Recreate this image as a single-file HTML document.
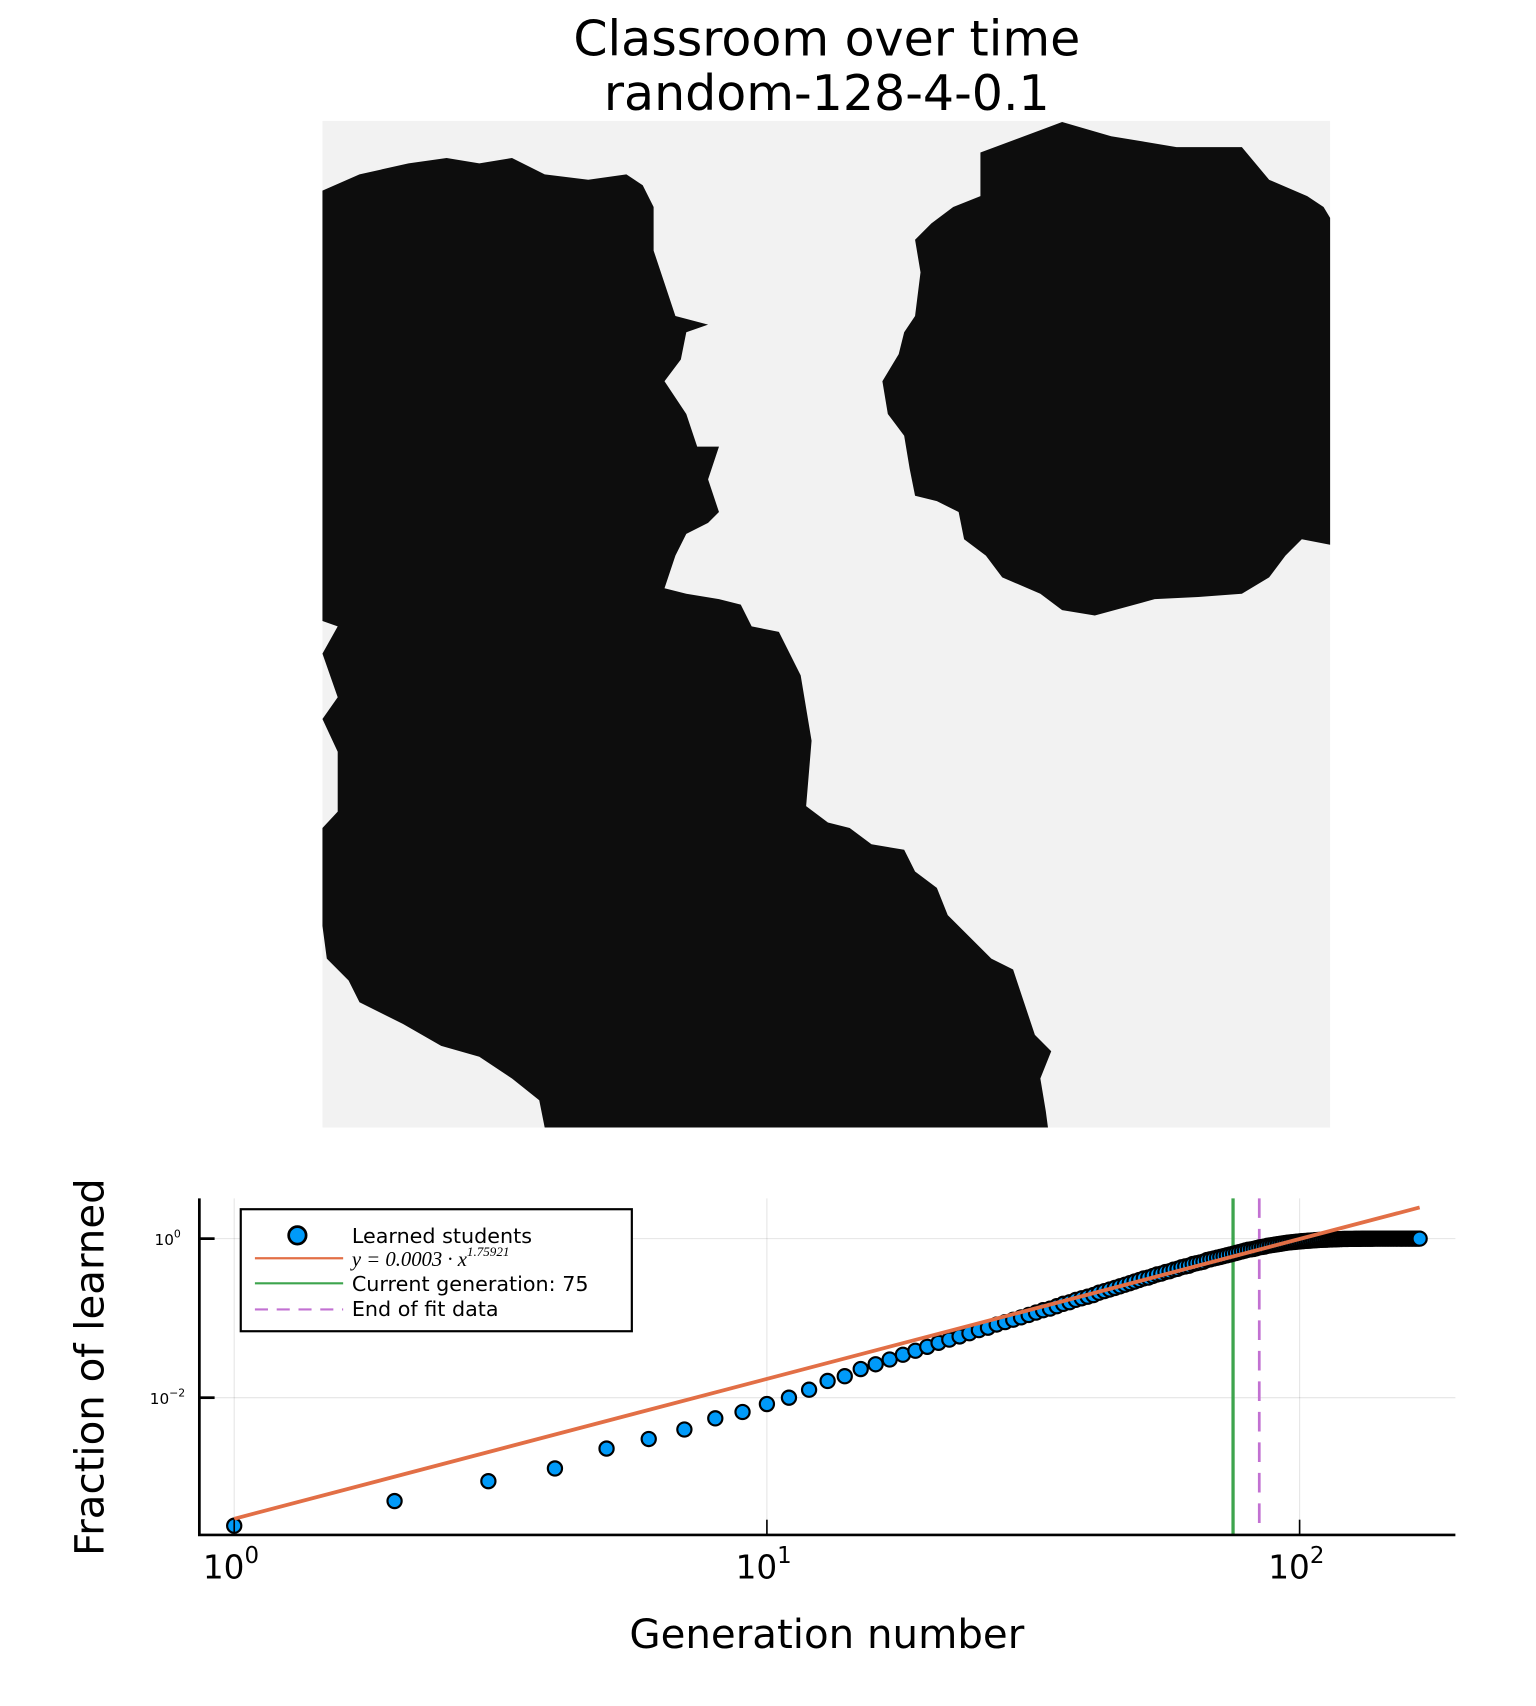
<!DOCTYPE html>
<html><head><meta charset="utf-8"><style>
html,body{margin:0;padding:0;background:#fff;}
svg{display:block;font-family:"DejaVu Sans","Liberation Sans",sans-serif;}
</style></head><body>
<svg id="fig" width="1536" height="1706" viewBox="0 0 1410 1566" xmlns="http://www.w3.org/2000/svg">
<rect x="0" y="0" width="1410" height="1566" fill="#fff"/>
<text x="759" y="51" font-size="45" text-anchor="middle">Classroom over time</text>
<text x="759" y="101" font-size="45" text-anchor="middle">random-128-4-0.1</text>
<g>
<rect x="296" y="111" width="925" height="924" fill="#f2f2f2"/>
<polygon fill="#0d0d0d" points="296,175 330,160 375,150 410,145 440,150 470,145 500,160 540,165 575,160 590,170 600,190 600,230 610,260 620,290 650,298 630,305 625,330 610,350 630,380 640,410 660,410 650,440 660,470 650,480 630,490 620,510 610,540 630,545 660,550 680,555 690,575 715,580 725,600 735,620 740,650 745,680 740,740 760,755 780,760 800,775 830,780 840,800 860,815 870,840 890,860 910,880 930,890 940,920 950,950 965,965 955,990 960,1020 962,1035 500,1035 495,1010 470,990 440,970 405,960 370,940 330,920 320,900 300,880 296,850 296,760 310,745 310,690 296,660 310,640 296,600 310,575 296,570"/>
<polygon fill="#0d0d0d" points="900,140 975,112 1020,125 1080,135 1140,135 1165,165 1200,180 1215,190 1221,200 1221,500 1195,495 1180,510 1165,530 1140,545 1100,548 1060,550 1005,565 975,560 955,545 920,530 905,510 885,495 880,470 860,460 840,455 835,430 830,400 815,380 810,350 825,325 830,305 840,290 845,250 840,220 855,205 875,190 900,180"/>
</g>
<g id="chart"></g>
</svg>
<script>
const genValuesLog10 = [-3.61,-3.30,-3.05,-2.89,-2.64,-2.52,-2.40,-2.26,-2.18,-2.08,
-2.00,-1.90,-1.79,-1.73,-1.64,-1.58,-1.52,-1.46,-1.41,-1.36,
-1.31,-1.27,-1.23,-1.19,-1.15,-1.12,-1.08,-1.05,-1.02,-0.99,
-0.96,-0.93,-0.90,-0.88,-0.85,-0.82,-0.80,-0.77,-0.75,-0.73,
-0.71,-0.68,-0.66,-0.64,-0.62,-0.60,-0.58,-0.56,-0.54,-0.52,
-0.50,-0.49,-0.47,-0.45,-0.44,-0.42,-0.41,-0.39,-0.38,-0.36,
-0.35,-0.34,-0.32,-0.31,-0.30,-0.29,-0.27,-0.26,-0.25,-0.24,
-0.23,-0.22,-0.21,-0.20,-0.19,-0.18,-0.17,-0.16,-0.15,-0.14,
-0.135,-0.13,-0.12,-0.11,-0.105,-0.10,-0.09,-0.085,-0.08,-0.075,
-0.07,-0.065,-0.06,-0.055,-0.05,-0.047,-0.044,-0.041,-0.038,-0.035,
-0.032,-0.03,-0.028,-0.026,-0.024,-0.022,-0.02,-0.018,-0.016,-0.015,
-0.014,-0.013,-0.012,-0.011,-0.01,-0.009,-0.008,-0.007,-0.006,-0.005,
-0.004,-0.004,-0.004,-0.003,-0.003,-0.003,-0.002,-0.002,-0.002,-0.002,
-0.001,-0.001,-0.001,-0.001,-0.001,-0.001,-0.001,0,0,0,
0,0,0,0,0,0,0,0,0,0,
0,0,0,0,0,0,0,0,0,0,
0,0,0,0,0,0,0,0];
const fitCoef = [0.0003];
const fitExp = [1.75921];
const currentGen = [75];
const fitEndGen = [84];
const xTickExps = [0,1,2];
const yTickExps = [0,-2];

const NS="http://www.w3.org/2000/svg";
const g=document.getElementById('chart');
const L=183,R=1336,T=1100,B=1409;
function xs(v){return 215+489*Math.log10(v);}
function ysLog(l){return 1137-73*l;}
function mk(t,a,parent){const e=document.createElementNS(NS,t);for(const k in a)e.setAttribute(k,a[k]);(parent||g).appendChild(e);return e;}

xTickExps.forEach(p=>{const l=mk('line',{x1:xs(Math.pow(10,p)),x2:xs(Math.pow(10,p)),y1:T,y2:B,stroke:'#000','stroke-opacity':0.1,'stroke-width':1});

});
yTickExps.forEach(p=>{const l=mk('line',{x1:L,x2:R,y1:ysLog(p),y2:ysLog(p),stroke:'#000','stroke-opacity':0.1,'stroke-width':1});

});

const vg=mk('line',{x1:xs(currentGen[0]),x2:xs(currentGen[0]),y1:T,y2:B,stroke:'#3da44d','stroke-width':3});


const vp=mk('line',{x1:xs(fitEndGen[0]),x2:xs(fitEndGen[0]),y1:T,y2:B,stroke:'#c271d2','stroke-width':2.5,'stroke-dasharray':'18,10'});



const pg=mk('g',{});


genValuesLog10.forEach((v,i)=>{const c=mk('circle',{cx:xs(i+1),cy:ysLog(v),r:6.5,fill:'#009af9',stroke:'#000','stroke-width':2},pg);

});

const n=genValuesLog10.length;
const f0=Math.log10(fitCoef[0]);
const fl=mk('line',{x1:xs(1),y1:ysLog(f0),x2:xs(n),y2:ysLog(f0+fitExp[0]*Math.log10(n)),stroke:'#e26f46','stroke-width':3.5});



const ax=mk('path',{d:`M${L},${T} V${B} H${R}`,fill:'none',stroke:'#000','stroke-width':2.5});


xTickExps.forEach(p=>{const x=xs(Math.pow(10,p));
const tk=mk('line',{x1:x,x2:x,y1:B,y2:B-14,stroke:'#000','stroke-width':1.5});


const t=mk('text',{x:x-3,y:1449,'font-size':30,'text-anchor':'middle'});


t.textContent='10';const s=mk('tspan',{dy:-14,'font-size':21},t);s.textContent=String(p);});
yTickExps.forEach(p=>{const y=ysLog(p);
const tk=mk('line',{x1:L,x2:L+14,y1:y,y2:y,stroke:'#000','stroke-width':2.5});


const t=mk('text',{x:p<0?170:166,y:y+6,'font-size':14,'text-anchor':'end'});


t.textContent='10';const s=mk('tspan',{dy:-7,'font-size':10},t);s.textContent=p<0?'\u2212'+(-p):String(p);});

const xl=mk('text',{x:759,y:1513,'font-size':37,'text-anchor':'middle'});


xl.textContent='Generation number';
const yl=mk('text',{x:0,y:0,'font-size':37,'text-anchor':'middle',transform:'translate(95,1255) rotate(-90)'});


yl.textContent='Fraction of learned';

const lg=mk('g',{});


mk('rect',{x:221,y:1110,width:359,height:112,fill:'#fff',stroke:'#000','stroke-width':2},lg);
const lc=mk('circle',{cx:273,cy:1134,r:8,fill:'#009af9',stroke:'#000','stroke-width':2.5},lg);


[['#e26f46',1155,''],['#3da44d',1178,''],['#c271d2',1202,'12,8']].forEach(([c,y,d],i)=>{
const l=mk('line',{x1:234,x2:315,y1:y,y2:y,stroke:c,'stroke-width':2,'stroke-dasharray':d||'none'},lg);

});
const labels=[['Learned students',1141],['Current generation: 75',1185],['End of fit data',1208]];
labels.forEach(([s,y])=>{const t=mk('text',{x:323,y:y,'font-size':19},lg);


t.textContent=s;});
const ft=mk('text',{x:323,y:1162,'font-size':19,'font-style':'italic','font-family':'Liberation Serif, serif'},lg);


ft.textContent='y = 0.0003 · x';
const fs=mk('tspan',{dy:-9,'font-size':12},ft);fs.textContent='1.75921';
</script>
</body></html>
